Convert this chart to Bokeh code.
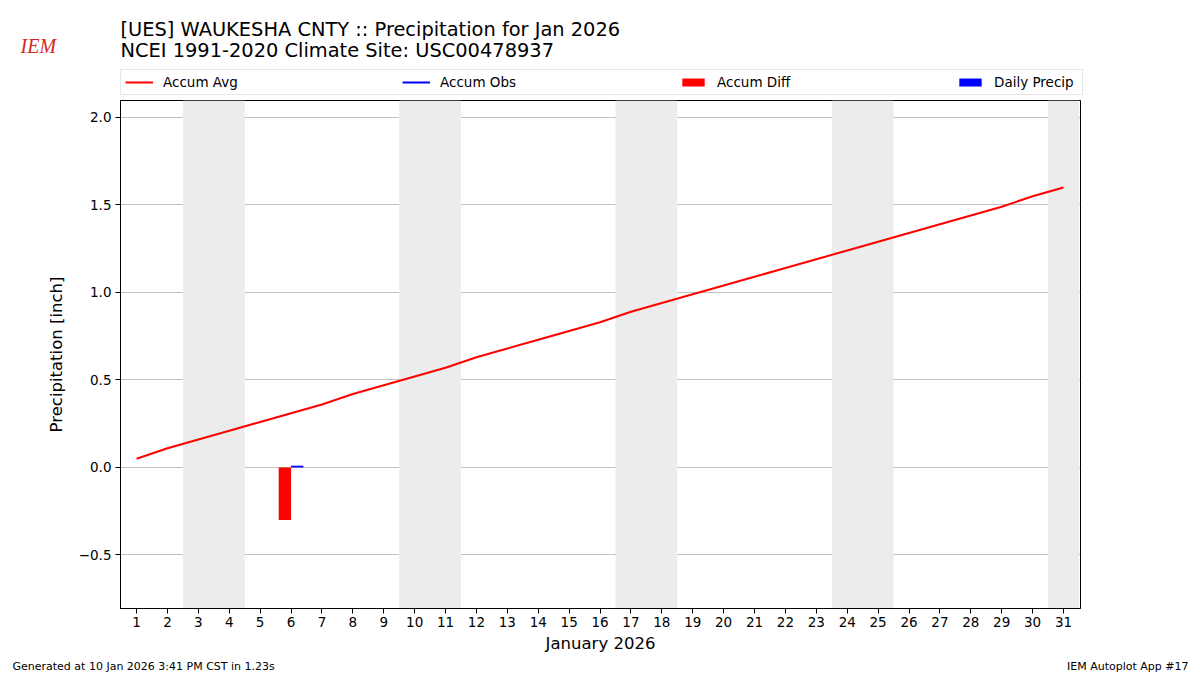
from bokeh.plotting import figure
from bokeh.layouts import column, row
from bokeh.models import Range1d, FixedTicker, Legend, LegendItem, BoxAnnotation, Label
from bokeh.embed import file_html
from bokeh.resources import INLINE

# ---- data ----
days = list(range(1, 32))
accum_avg = [0.05, 0.11, 0.16, 0.21, 0.26, 0.31, 0.36, 0.42, 0.47, 0.52,
             0.57, 0.63, 0.68, 0.73, 0.78, 0.83, 0.89, 0.94, 0.99, 1.04,
             1.09, 1.14, 1.19, 1.24, 1.29, 1.34, 1.39, 1.44, 1.49, 1.55, 1.60]
obs_days = [6]
accum_obs = [0.01]
diff_days = [6]
accum_diff = [-0.30]
precip_days = [6]
daily_precip = [0.01]
weekend_days = [3, 4, 10, 11, 17, 18, 24, 25, 31]
x_ticks = days
y_ticks = [-0.5, 0.0, 0.5, 1.0, 1.5, 2.0]
y_tick_labels = ["\u22120.5", "0.0", "0.5", "1.0", "1.5", "2.0"]

FONT = "DejaVu Sans"
W = 1200
HEAD_H, MAIN_H, FOOT_H = 98, 562, 15


def blank(height):
    # ranges chosen so that no data value falls into view (text only / legend proxies)
    f = figure(width=W, height=height, output_backend="svg", toolbar_location=None,
               x_range=Range1d(100, 200), y_range=Range1d(100, 200),
               x_axis_type=None, y_axis_type=None, min_border=0,
               min_border_left=0, min_border_right=0, min_border_top=0, min_border_bottom=0)
    f.grid.visible = False
    f.outline_line_color = None
    f.background_fill_color = "white"
    f.border_fill_color = "white"
    return f


def style_bars(fig, xs, tops, color):
    return fig.vbar(x=xs, top=tops, bottom=0, width=0.4, fill_color=color, line_color=None)


# ---------------- main chart ----------------
p = figure(width=W, height=MAIN_H, output_backend="svg", toolbar_location=None,
           x_range=Range1d(0.48, 31.55), y_range=Range1d(-0.806, 2.097),
           min_border_left=120, min_border_right=120, min_border_top=2, min_border_bottom=52)
p.background_fill_color = "white"
p.border_fill_color = "white"
p.outline_line_color = "black"
p.outline_line_width = 1

for d in weekend_days:
    p.add_layout(BoxAnnotation(left=d - 0.5, right=d + 0.5, fill_color="#ececec",
                               fill_alpha=1.0, line_alpha=0, level="underlay"))

p.xgrid.visible = False
p.ygrid.grid_line_color = "#b0b0b0"
p.ygrid.grid_line_width = 0.8
p.ygrid.level = "underlay"

diff_x = [d - 0.2 for d in diff_days]
prec_x = [d + 0.2 for d in precip_days]
p.line(days, accum_avg, line_color="red", line_width=2)
p.line(obs_days, accum_obs, line_color="blue", line_width=2)
style_bars(p, diff_x, accum_diff, "red")
style_bars(p, prec_x, daily_precip, "blue")

for ax in (p.xaxis[0], p.yaxis[0]):
    ax.major_label_text_font = FONT
    ax.major_label_text_font_size = "13.5px"
    ax.major_label_text_color = "black"
    ax.axis_label_text_font = FONT
    ax.axis_label_text_font_size = "16.5px"
    ax.axis_label_text_font_style = "normal"
    ax.axis_label_text_color = "black"
    ax.axis_line_color = "black"
    ax.major_tick_line_color = "black"
    ax.major_tick_out = 5
    ax.major_tick_in = 0
    ax.minor_tick_line_color = None
p.xaxis.ticker = FixedTicker(ticks=x_ticks)
p.yaxis.ticker = FixedTicker(ticks=y_ticks)
p.yaxis.major_label_overrides = {t: l for t, l in zip(y_ticks, y_tick_labels)}
p.xaxis.axis_label = "January 2026"
p.yaxis.axis_label = "Precipitation [inch]"
p.xaxis.major_label_standoff = 3
p.xaxis.axis_label_standoff = 4
p.yaxis.major_label_standoff = 4
p.yaxis.axis_label_standoff = 10

# ---------------- header: logo, titles, legend ----------------
h = blank(HEAD_H)
# legend proxies: same series, out of this strip's view
l_avg = h.line(days, accum_avg, line_color="red", line_width=2)
l_obs = h.line(obs_days, accum_obs, line_color="blue", line_width=2)
l_diff = style_bars(h, diff_x, accum_diff, "red")
l_prec = style_bars(h, prec_x, daily_precip, "blue")
leg = Legend(items=[LegendItem(label="Accum Avg", renderers=[l_avg]),
                    LegendItem(label="Accum Obs", renderers=[l_obs]),
                    LegendItem(label="Accum Diff", renderers=[l_diff]),
                    LegendItem(label="Daily Precip", renderers=[l_prec])],
             orientation="horizontal", location=(120, 3), margin=0, padding=4,
             spacing=155, label_width=84, label_height=13, glyph_width=28, glyph_height=10,
             label_standoff=10, label_text_font=FONT, label_text_font_size="13.5px",
             label_text_color="black",
             border_line_color="#cccccc", border_line_width=1,
             background_fill_color="white", background_fill_alpha=1.0)
h.add_layout(leg, "center")
h.add_layout(Label(x=120, y=HEAD_H - 29, x_units="screen", y_units="screen",
                   text="[UES] WAUKESHA CNTY :: Precipitation for Jan 2026", text_color="black",
                   text_font=FONT, text_font_size="19.4px", text_baseline="middle"))
h.add_layout(Label(x=120, y=HEAD_H - 50, x_units="screen", y_units="screen",
                   text="NCEI 1991-2020 Climate Site: USC00478937", text_color="black",
                   text_font=FONT, text_font_size="19.4px", text_baseline="middle"))
h.add_layout(Label(x=20, y=HEAD_H - 45, x_units="screen", y_units="screen",
                   text="IEM", text_font="Liberation Serif", text_font_size="20px",
                   text_font_style="italic", text_color="#d62728", text_baseline="middle"))

# ---------------- footer ----------------
f = blank(FOOT_H)
f.add_layout(Label(x=12, y=9, x_units="screen", y_units="screen",
                   text="Generated at 10 Jan 2026 3:41 PM CST in 1.23s", text_color="black",
                   text_font=FONT, text_font_size="11px", text_baseline="middle"))
f.add_layout(Label(x=1188, y=9, x_units="screen", y_units="screen",
                   text="IEM Autoplot App #17", text_align="right", text_color="black",
                   text_font=FONT, text_font_size="11px", text_baseline="middle"))

layout = column(row(h), p, row(f), spacing=0)
open("out.html", "w").write(file_html(layout, INLINE))
